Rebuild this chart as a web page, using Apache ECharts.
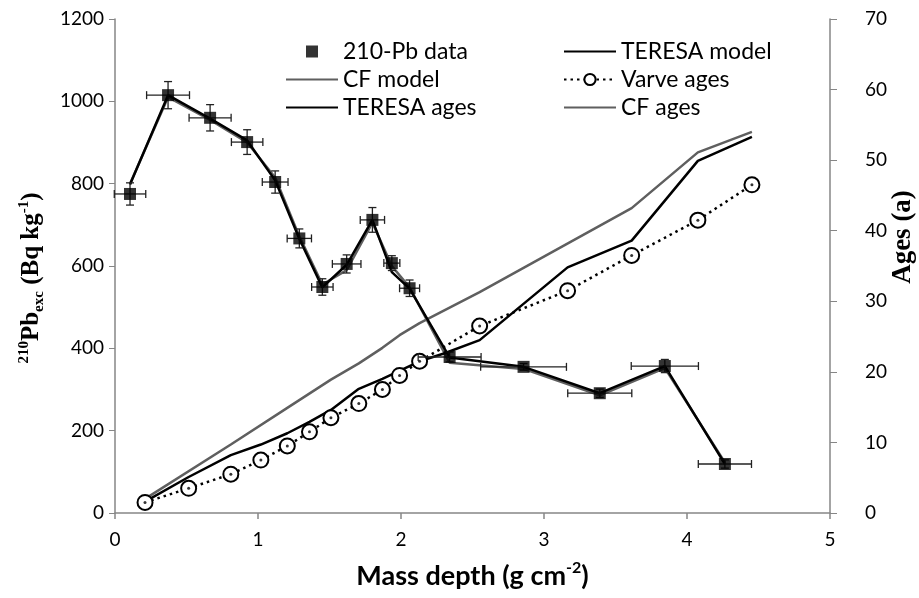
<!DOCTYPE html>
<html><head><meta charset="utf-8">
<script src="https://cdn.jsdelivr.net/npm/echarts@6/dist/echarts.min.js"></script>
<style>html,body{margin:0;padding:0;background:#fff}#c{width:919px;height:598px}</style>
</head><body><div id="c"></div>
<script>
// 210-Pb excess data (left axis)
const pbDepth    = [0.105,0.371,0.665,0.924,1.12,1.289,1.45,1.62,1.80,1.936,2.06,2.34,2.857,3.39,3.845,4.265];
const pbValue    = [775,1015,960,901,804,667,549,605,712,607,546,379,355,291,357,119];
const pbDepthErr = [0.11,0.15,0.147,0.11,0.09,0.085,0.075,0.1,0.085,0.056,0.07,0.22,0.30,0.224,0.235,0.186];
const pbValueErr = [27,33,32,30,27,23,20,22,30,18,20,12,8,10,16,10];
// model fits (left axis)
const teresaModel = [798,1015,958,905,808,666,548,603,712,585,545,378,355,291,357,119];
const cfModel     = [800,1010,955,900,815,672,555,590,705,600,548,365,350,286,352,123];
// ages (right axis)
const varveDepth = [0.21,0.515,0.81,1.02,1.205,1.36,1.51,1.705,1.87,1.99,2.13,2.55,3.165,3.613,4.076,4.454];
const varveAge   = [1.5,3.5,5.5,7.5,9.5,11.5,13.5,15.5,17.5,19.5,21.5,26.5,31.5,36.5,41.5,46.5];
const teresaAgeDepth = [0.21,0.515,0.81,1.02,1.205,1.36,1.51,1.705,1.87,2.13,2.30,2.55,3.165,3.613,4.076,4.454];
const teresaAge      = [1.6,5.1,8.2,9.7,11.3,12.9,14.6,17.6,19.0,21.5,22.6,24.5,34.8,38.6,49.9,53.3];
const cfAgeDepth = [0.21,0.81,1.205,1.51,1.705,1.87,1.99,2.13,2.55,3.613,4.076,4.454];
const cfAge      = [2.0,9.7,14.9,18.9,21.2,23.4,25.2,26.9,31.3,43.2,51.1,54.0];

const zip = (a, b) => a.map((v, i) => [v, b[i]]);
const GRAY = '#5f5f5f';
const AXC = '#868686';
const SANS = 'Lato';
const SERIF = 'Liberation Serif';
const CLEAR = {color: 'rgba(0,0,0,0)', borderColor: 'rgba(0,0,0,0)', borderWidth: 0};
const SQUARE_ICON = 'path://M0,0L0,0M20,1L32,1L32,13L20,13ZM52,14L52,14';

const chart = echarts.init(document.getElementById('c'));
const legendText = {fontFamily: SANS, fontSize: 23, color: '#000', lineHeight: 23};
chart.setOption({
  animation: false,
  backgroundColor: '#fff',
  grid: {left: 115, right: 89, top: 19, bottom: 85, outerBoundsMode: 'none', containLabel: false},
  legend: [
    {left: 280, top: 35, orient: 'vertical', itemWidth: 52, itemHeight: 14, itemGap: 5, selectedMode: false,
     data: [{name: '210-Pb data', icon: SQUARE_ICON}, {name: 'CF model', itemStyle: CLEAR},
            {name: 'TERESA ages', itemStyle: CLEAR}], textStyle: legendText},
    {left: 558, top: 35, orient: 'vertical', itemWidth: 52, itemHeight: 14, itemGap: 5, selectedMode: false,
     data: [{name: 'TERESA model', itemStyle: CLEAR}, 'Varve ages', {name: 'CF ages', itemStyle: CLEAR}],
     textStyle: legendText}
  ],
  xAxis: {
    type: 'value', min: 0, max: 5, interval: 1,
    axisLine: {show: true, lineStyle: {color: AXC, width: 1.5}},
    axisTick: {show: true, length: 6, lineStyle: {color: AXC, width: 1.5}},
    splitLine: {show: false},
    axisLabel: {fontFamily: SANS, fontSize: 19, color: '#000', margin: 17},
    name: 'Mass depth (g cm{sup|-2})', nameLocation: 'middle', nameGap: 47, nameMoveOverlap: false,
    nameTextStyle: {fontFamily: SANS, fontWeight: 'bold', fontSize: 27, color: '#000', lineHeight: 32,
      rich: {sup: {fontFamily: SANS, fontWeight: 'bold', fontSize: 16, color: '#000', lineHeight: 18, verticalAlign: 'top'}}}
  },
  yAxis: [
    {
      type: 'value', min: 0, max: 1200, interval: 200, position: 'left',
      axisLine: {show: true, lineStyle: {color: AXC, width: 1.5}},
      axisTick: {show: true, length: 6, lineStyle: {color: AXC, width: 1}},
      splitLine: {show: false},
      axisLabel: {fontFamily: SANS, fontSize: 19, color: '#000', margin: 11, formatter: v => String(v)},
      name: '{sup|210}{b|Pb}{sub|exc}{b| (Bq kg}{sup|-1}{b|)}', nameLocation: 'middle', nameGap: 68,
      nameMoveOverlap: false,
      nameTextStyle: {fontFamily: SERIF, fontWeight: 'bold', fontSize: 24, color: '#000', lineHeight: 30,
        padding: [0, 24, 0, 0],
        rich: {
          b: {fontFamily: SERIF, fontWeight: 'bold', fontSize: 25, color: '#000', lineHeight: 30},
          sup: {fontFamily: SERIF, fontWeight: 'bold', fontSize: 15, color: '#000', lineHeight: 18, verticalAlign: 'top'},
          sub: {fontFamily: SERIF, fontWeight: 'bold', fontSize: 15, color: '#000', lineHeight: 16, verticalAlign: 'bottom'}
        }}
    },
    {
      type: 'value', min: 0, max: 70, interval: 10, position: 'right',
      axisLine: {show: true, lineStyle: {color: AXC, width: 1.5}},
      axisTick: {show: true, length: 7, lineStyle: {color: AXC, width: 1}},
      splitLine: {show: false},
      axisLabel: {fontFamily: SANS, fontSize: 19, color: '#000', margin: 35},
      name: 'Ages (a)', nameLocation: 'middle', nameGap: 60, nameMoveOverlap: false,
      nameTextStyle: {fontFamily: SERIF, fontWeight: 'bold', fontSize: 27, color: '#000', padding: [0, 0, 0, 58]}
    }
  ],
  series: [
    {name: 'CF model', type: 'line', yAxisIndex: 0, data: zip(pbDepth, cfModel), symbol: 'none',
     lineStyle: {color: GRAY, width: 2.5}, itemStyle: {color: GRAY}, z: 2},
    {name: 'TERESA model', type: 'line', yAxisIndex: 0, data: zip(pbDepth, teresaModel), symbol: 'none',
     lineStyle: {color: '#000', width: 2.5}, itemStyle: {color: '#000'}, z: 3},
    {name: 'CF ages', type: 'line', yAxisIndex: 1, data: zip(cfAgeDepth, cfAge), symbol: 'none',
     lineStyle: {color: GRAY, width: 2.5}, itemStyle: {color: GRAY}, z: 2},
    {name: 'TERESA ages', type: 'line', yAxisIndex: 1, data: zip(teresaAgeDepth, teresaAge), symbol: 'none',
     lineStyle: {color: '#000', width: 2.5}, itemStyle: {color: '#000'}, z: 3},
    {name: 'Varve ages', type: 'line', yAxisIndex: 1, data: zip(varveDepth, varveAge),
     symbol: 'emptyCircle', symbolSize: 15,
     lineStyle: {color: '#000', width: 2.5, type: [2.5, 4]},
     itemStyle: {color: '#000', borderWidth: 2}, z: 4},
    {name: 'varve-center', type: 'scatter', yAxisIndex: 1, data: zip(varveDepth, varveAge),
     symbol: 'circle', symbolSize: 3, itemStyle: {color: '#000'}, z: 5, silent: true},
    {name: 'errors', type: 'custom', yAxisIndex: 0,
     data: pbDepth.map((d, i) => [d, pbValue[i], pbDepthErr[i], pbValueErr[i]]),
     encode: {x: 0, y: 1}, z: 5, silent: true,
     renderItem: function (params, api) {
       const x = api.value(0), y = api.value(1), dx = api.value(2), dy = api.value(3);
       const l = api.coord([x - dx, y]), r = api.coord([x + dx, y]);
       const t = api.coord([x, y + dy]), b = api.coord([x, y - dy]);
       const cap = 4;
       const style = {stroke: '#222', lineWidth: 1.3, fill: null};
       const ln = (x1, y1, x2, y2) => ({type: 'line', shape: {x1, y1, x2, y2}, style});
       return {type: 'group', children: [
         ln(l[0], l[1], r[0], r[1]),
         ln(l[0], l[1] - cap, l[0], l[1] + cap),
         ln(r[0], r[1] - cap, r[0], r[1] + cap),
         ln(t[0], t[1], b[0], b[1]),
         ln(t[0] - cap, t[1], t[0] + cap, t[1]),
         ln(b[0] - cap, b[1], b[0] + cap, b[1])
       ]};
     }},
    {name: '210-Pb data', type: 'scatter', yAxisIndex: 0, data: zip(pbDepth, pbValue),
     symbol: 'rect', symbolSize: 12, itemStyle: {color: '#000'}, z: 6}
  ]
});
</script>
</body></html>
